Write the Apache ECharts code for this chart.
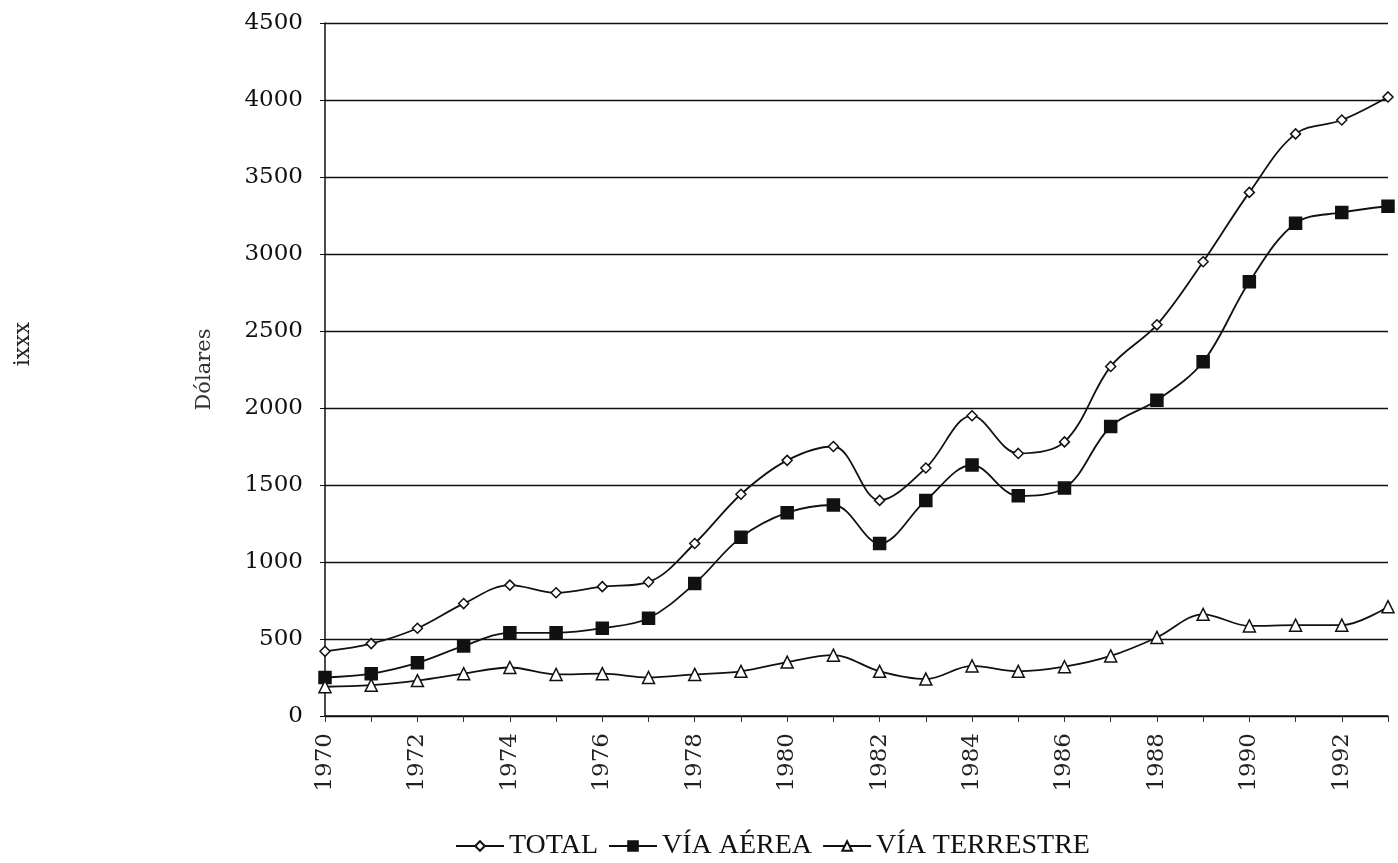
<!DOCTYPE html>
<html>
<head>
<meta charset="utf-8">
<script src="https://cdn.jsdelivr.net/npm/echarts@6/dist/echarts.min.js"></script>
<style>
  html, body { margin: 0; padding: 0; background: #fff; }
  #chart { width: 1398px; height: 863px; }
</style>
</head>
<body>
<div id="chart"></div>
<script>
// años y valores (dólares)
const years = ['1970', '1971', '1972', '1973', '1974', '1975', '1976', '1977', '1978', '1979', '1980', '1981',
  '1982', '1983', '1984', '1985', '1986', '1987', '1988', '1989', '1990', '1991', '1992', '1993'];
const total = [420, 470, 570, 730, 850, 800, 840, 870, 1120, 1440, 1660, 1750,
  1400, 1610, 1950, 1705, 1780, 2270, 2540, 2950, 3400, 3780, 3870, 4020];
const viaAerea = [250, 275, 345, 455, 540, 540, 570, 635, 860, 1160, 1320, 1370,
  1120, 1400, 1630, 1430, 1480, 1880, 2050, 2300, 2820, 3200, 3270, 3310];
const viaTerrestre = [190, 200, 230, 275, 315, 270, 275, 250, 270, 290, 350, 395,
  290, 240, 325, 290, 320, 390, 510, 660, 585, 590, 590, 710];
const seriesNames = ['TOTAL', 'VÍA AÉREA', 'VÍA TERRESTRE'];

const font = 'DejaVu Serif';
const chart = echarts.init(document.getElementById('chart'));

function makeSeries(name, data, symbol, size, fill) {
  return {
    name: name,
    type: 'line',
    data: data,
    smooth: 0.35,
    symbol: symbol,
    symbolSize: size,
    showAllSymbol: true,
    lineStyle: { color: '#111', width: 1.8 },
    itemStyle: { color: fill, borderColor: '#111', borderWidth: 1.5 },
    z: 3
  };
}

const option = {
  backgroundColor: '#fff',
  animation: false,
  grid: { left: 325, right: 10, top: 23, bottom: 147, outerBoundsMode: 'none' },
  legend: {
    top: 827,
    left: 450,
    itemWidth: 48,
    itemHeight: 12,
    itemGap: 10,
    textStyle: { fontFamily: 'Liberation Serif', fontSize: 28, color: '#111' },
    data: seriesNames
  },
  xAxis: {
    type: 'category',
    data: years,
    boundaryGap: false,
    axisLine: { lineStyle: { color: '#111', width: 1.5 } },
    axisTick: { interval: 0, length: 6, lineStyle: { color: '#333' } },
    axisLabel: {
      interval: 1,
      rotate: 90,
      margin: 17,
      fontFamily: font,
      fontSize: 23,
      color: '#222',
      hideOverlap: false
    },
    splitLine: { show: false }
  },
  yAxis: {
    type: 'value',
    min: 0,
    max: 4500,
    interval: 500,
    name: 'Dólares',
    nameLocation: 'middle',
    nameRotate: 90,
    nameGap: 110,
    nameTextStyle: { fontFamily: font, fontSize: 21, color: '#333' },
    axisLine: { show: true, lineStyle: { color: '#111', width: 1.5 } },
    axisTick: { show: true, length: 5, lineStyle: { color: '#111' } },
    axisLabel: {
      margin: 22,
      fontFamily: font,
      fontSize: 23,
      color: '#111',
      formatter: function (v) { return String(v); }
    },
    splitLine: { lineStyle: { color: '#111', width: 1.3 } }
  },
  graphic: [{
    type: 'text',
    left: 12,
    top: 322,
    rotation: Math.PI / 2,
    style: { text: 'ixxx', font: '22px "DejaVu Serif"', fill: '#222' }
  }],
  series: [
    makeSeries(seriesNames[0], total, 'diamond', 10, '#fff'),
    makeSeries(seriesNames[1], viaAerea, 'rect', 12, '#111'),
    makeSeries(seriesNames[2], viaTerrestre, 'triangle', 12, '#fff')
  ]
};

chart.setOption(option);
</script>
</body>
</html>
